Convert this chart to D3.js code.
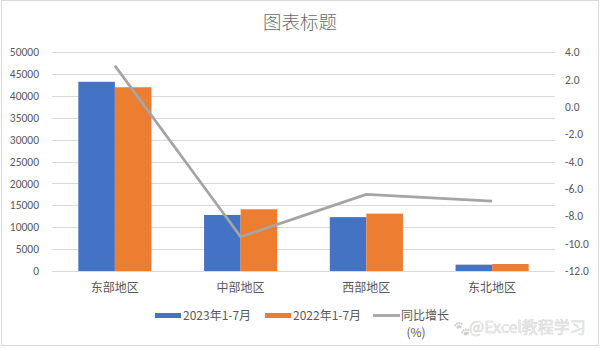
<!DOCTYPE html>
<html>
<head>
<meta charset="utf-8">
<script src="https://cdn.jsdelivr.net/npm/d3@7"></script>
<style>
  html, body { margin: 0; padding: 0; background: #fff; }
  svg { display: block; font-family: "Noto Sans CJK SC", "Noto Sans", sans-serif; }
</style>
</head>
<body>
<svg id="chart" width="600" height="349"></svg>
<script>
// Regional figures, Jan–Jul
const regions = ["东部地区", "中部地区", "西部地区", "东北地区"];
const values2023 = [43200, 12800, 12300, 1450];
const values2022 = [41950, 14100, 13100, 1600];
const growthPct = [3.0, -9.5, -6.4, -6.9];

const leftTicks = [0, 5000, 10000, 15000, 20000, 25000, 30000, 35000, 40000, 45000, 50000];
const rightTicks = [4, 2, 0, -2, -4, -6, -8, -10, -12];

const seriesNames = ["2023年1-7月", "2022年1-7月", "同比增长", "(%)"];
const title = "图表标题";

const W = 600, H = 349;
const plot = { left: 52, right: 555, top: 52, bottom: 271 };
const textColor = "#595959";
const blue = "#4472C4", orange = "#ED7D31", gray = "#A5A5A5";

const svg = d3.select("#chart");

// outer chart frame
svg.append("rect")
  .attr("x", 1.5).attr("y", 0.5).attr("width", W - 3).attr("height", H - 4)
  .attr("fill", "#fff").attr("stroke", "#d9d9d9");

const x = d3.scaleBand().domain(regions).range([plot.left, plot.right]).paddingInner(0).paddingOuter(0);
const inner = d3.scaleBand().domain([0, 1]).range([0, x.bandwidth()]).paddingInner(0).paddingOuter(0.72);
const yL = d3.scaleLinear().domain([0, 50000]).range([plot.bottom, plot.top]);
const yR = d3.scaleLinear().domain([-12, 4]).range([plot.bottom, plot.top]);

// gridlines
svg.append("g")
  .selectAll("line").data(leftTicks).join("line")
  .attr("x1", plot.left).attr("x2", plot.right)
  .attr("y1", d => Math.round(yL(d)) + 0.5).attr("y2", d => Math.round(yL(d)) + 0.5)
  .attr("stroke", "#d9d9d9").attr("stroke-width", 1);

// left axis
const axL = d3.axisLeft(yL).tickValues(leftTicks).tickSize(0).tickPadding(0).tickFormat(d3.format("d"));
const gL = svg.append("g").attr("transform", `translate(${plot.left - 13},0)`).call(axL);
gL.select(".domain").remove();
gL.selectAll("text").attr("fill", textColor).style("font-size", "11.5px")
  .style("font-family", "Calibri, 'Liberation Sans', 'Noto Sans', sans-serif");

// right axis
const axR = d3.axisRight(yR).tickValues(rightTicks).tickSize(0).tickPadding(0).tickFormat(d3.format(".1f"));
const gR = svg.append("g").attr("transform", `translate(${plot.right + 10},0)`).call(axR);
gR.select(".domain").remove();
gR.selectAll("text").attr("fill", textColor).style("font-size", "11.5px")
  .style("font-family", "Calibri, 'Liberation Sans', 'Noto Sans', sans-serif")
  .text(d => d3.format(".1f")(d).replace("−", "-"));

// bars
const bars = svg.append("g");
[values2023, values2022].forEach((vals, s) => {
  bars.append("g").attr("fill", s === 0 ? blue : orange)
    .selectAll("rect").data(regions).join("rect")
    .attr("x", (d) => x(d) + inner(s))
    .attr("width", inner.bandwidth())
    .attr("y", (d, i) => yL(vals[i]))
    .attr("height", (d, i) => yL(0) - yL(vals[i]));
});

// growth line
const line = d3.line()
  .x((d, i) => x(regions[i]) + x.bandwidth() / 2)
  .y(d => yR(d));
svg.append("path").datum(growthPct)
  .attr("d", line).attr("fill", "none")
  .attr("stroke", gray).attr("stroke-width", 2.75).attr("stroke-linejoin", "round");

// category labels
svg.append("g").selectAll("text").data(regions).join("text")
  .attr("x", d => x(d) + x.bandwidth() / 2).attr("y", 292)
  .attr("text-anchor", "middle").attr("fill", textColor)
  .style("font-size", "12px").text(d => d);

// title
svg.append("text").attr("x", 300).attr("y", 29).attr("text-anchor", "middle")
  .attr("fill", "#6a6a6a").style("font-size", "18.5px").style("font-weight", 300).text(title);

// legend
const lg = svg.append("g").style("font-size", "12px").attr("fill", textColor);
lg.append("rect").attr("x", 155).attr("y", 313).attr("width", 26).attr("height", 5).attr("fill", blue);
lg.append("text").attr("x", 183).attr("y", 320).text(seriesNames[0]);
lg.append("rect").attr("x", 265).attr("y", 313).attr("width", 26).attr("height", 5).attr("fill", orange);
lg.append("text").attr("x", 293).attr("y", 320).text(seriesNames[1]);
lg.append("line").attr("x1", 373).attr("x2", 400).attr("y1", 315.5).attr("y2", 315.5)
  .attr("stroke", gray).attr("stroke-width", 2.75);
lg.append("text").attr("x", 401).attr("y", 320).text(seriesNames[2]);
lg.append("text").attr("x", 416).attr("y", 337).attr("text-anchor", "middle").text(seriesNames[3]);

// watermark
svg.append("text").attr("x", 453).attr("y", 333)
  .style("font-size", "14px").style("filter", "grayscale(1) opacity(0.3)")
  .text("🐾");
svg.append("text").attr("x", 469).attr("y", 333)
  .style("font-size", "16px").attr("fill", "#f6f6f6").attr("stroke", "#d6d6d6").attr("stroke-width", 0.6)
  .text("@Excel教程学习");
</script>
</body>
</html>
